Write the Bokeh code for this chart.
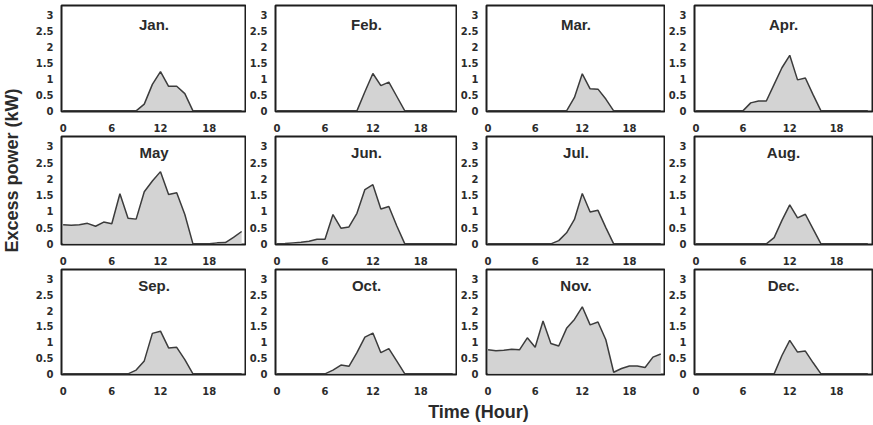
from math import pi

from bokeh.embed import file_html
from bokeh.layouts import column, row
from bokeh.models import FixedTicker, Label, NumeralTickFormatter, Range1d
from bokeh.plotting import figure
from bokeh.resources import INLINE

# Hour of day for each sample (hourly values)
hours = list(range(23))

month_names = ["Jan.", "Feb.", "Mar.", "Apr.", "May", "Jun.",
               "Jul.", "Aug.", "Sep.", "Oct.", "Nov.", "Dec."]

# Excess power (kW) per hour, one list per month
jan = [0, 0, 0, 0, 0, 0, 0, 0, 0, 0, 0.21, 0.83, 1.23, 0.77, 0.77, 0.54, 0, 0, 0, 0, 0, 0, 0]
feb = [0, 0, 0, 0, 0, 0, 0, 0, 0, 0, 0, 0.6, 1.17, 0.79, 0.9, 0.45, 0, 0, 0, 0, 0, 0, 0]
mar = [0, 0, 0, 0, 0, 0, 0, 0, 0, 0, 0, 0.42, 1.16, 0.69, 0.68, 0.37, 0, 0, 0, 0, 0, 0, 0]
apr = [0, 0, 0, 0, 0, 0, 0, 0.25, 0.31, 0.31, 0.83, 1.35, 1.74, 0.97, 1.03, 0.5, 0, 0, 0, 0, 0, 0, 0]
may = [0.59, 0.57, 0.59, 0.63, 0.54, 0.67, 0.62, 1.54, 0.79, 0.76, 1.6, 1.93, 2.22, 1.52, 1.57, 0.9,
       0, 0, 0, 0.03, 0.04, 0.2, 0.38]
jun = [0, 0.01, 0.03, 0.05, 0.08, 0.14, 0.14, 0.9, 0.48, 0.52, 0.94, 1.67, 1.82, 1.07, 1.15, 0.55,
       0, 0, 0, 0, 0, 0, 0]
jul = [0, 0, 0, 0, 0, 0, 0, 0, 0, 0.1, 0.34, 0.75, 1.55, 0.98, 1.03, 0.5, 0, 0, 0, 0, 0, 0, 0]
aug = [0, 0, 0, 0, 0, 0, 0, 0, 0, 0, 0.19, 0.72, 1.2, 0.8, 0.91, 0.45, 0, 0, 0, 0, 0, 0, 0]
sep = [0, 0, 0, 0, 0, 0, 0, 0, 0, 0.12, 0.41, 1.28, 1.35, 0.82, 0.84, 0.45, 0, 0, 0, 0, 0, 0, 0]
oct_ = [0, 0, 0, 0, 0, 0, 0, 0.12, 0.28, 0.24, 0.67, 1.16, 1.29, 0.67, 0.8, 0.4, 0, 0, 0, 0, 0, 0, 0]
nov = [0.76, 0.73, 0.75, 0.78, 0.76, 1.14, 0.84, 1.67, 0.96, 0.88, 1.44, 1.72, 2.12, 1.55, 1.64, 1.08,
       0.05, 0.17, 0.25, 0.25, 0.2, 0.53, 0.63]
dec = [0, 0, 0, 0, 0, 0, 0, 0, 0, 0, 0, 0.58, 1.06, 0.69, 0.72, 0.35, 0, 0, 0, 0, 0, 0, 0]

monthly = [jan, feb, mar, apr, may, jun, jul, aug, sep, oct_, nov, dec]

x_ticks = [0, 6, 12, 18]
y_ticks = [0, 0.5, 1, 1.5, 2, 2.5, 3]

FONT = "Liberation Sans"
TICK_FONT = "DejaVu Sans"
TEXT = "#2b2b2b"
LINE = "#3c3c3c"
FILL = "#d3d3d3"
FRAME = "#1e1e1e"

# panel geometry (pixels)
left_borders = [31, 26, 23, 23]
frame_widths = [185, 185, 185, 184]
right_borders = [0, 0, 0, 1]
row_specs = [(5, 110, 19), (2, 108, 23), (2, 108, 20)]  # top border, frame height, bottom border
title_y = [2.7, 2.8, 2.78]


def make_panel(name, values, col, r):
    top, fh, bottom = row_specs[r]
    p = figure(
        width=left_borders[col] + frame_widths[col] + right_borders[col],
        height=top + fh + bottom,
        x_range=Range1d(-0.2, 22.6),
        y_range=Range1d(-0.02, 3.3),
        output_backend="svg",
        toolbar_location=None,
        min_border_left=left_borders[col],
        min_border_right=right_borders[col],
        min_border_top=top,
        min_border_bottom=bottom,
    )
    p.grid.visible = False
    p.outline_line_color = FRAME
    p.outline_line_width = 2
    p.background_fill_color = "white"
    p.border_fill_color = "white"

    p.xaxis.ticker = FixedTicker(ticks=x_ticks)
    p.yaxis.ticker = FixedTicker(ticks=y_ticks)
    p.yaxis.formatter = NumeralTickFormatter(format="0.[0]")
    for ax in (p.xaxis, p.yaxis):
        ax.axis_line_color = None
        ax.major_tick_line_color = None
        ax.minor_tick_line_color = None
        ax.major_label_text_font = TICK_FONT
        ax.major_label_text_font_style = "bold"
        ax.major_label_text_font_size = "10px"
        ax.major_label_text_color = TEXT
    p.xaxis.major_label_standoff = 6
    p.xaxis.major_label_text_align = "left"
    p.yaxis.major_label_standoff = 2

    p.varea(x=hours, y1=0, y2=values, fill_color=FILL)
    p.line(hours, values, line_color=LINE, line_width=1.5)

    p.add_layout(Label(x=11.2, y=title_y[r], text=name, text_align="center",
                       text_baseline="middle", text_font=FONT,
                       text_font_style="bold", text_font_size="15px",
                       text_color=TEXT))
    return p


rows = []
for r in range(3):
    panels = [make_panel(month_names[r * 4 + c], monthly[r * 4 + c], c, r)
              for c in range(4)]
    rows.append(row(*panels))
grid = column(*rows)

grid_height = sum(t + f + b for t, f, b in row_specs)

# shared y-axis title
ylab = figure(width=30, height=grid_height, x_range=Range1d(0, 30),
              y_range=Range1d(0, grid_height), output_backend="svg",
              toolbar_location=None, min_border=0)
ylab.axis.visible = False
ylab.grid.visible = False
ylab.outline_line_color = None
ylab.add_layout(Label(x=11, y=grid_height - 170, text="Excess power (kW)", angle=pi / 2,
                      text_align="center", text_baseline="middle", text_font=FONT,
                      text_font_style="bold", text_font_size="18px", text_color=TEXT))

# shared x-axis title
xlab = figure(width=873, height=28, x_range=Range1d(0, 873), y_range=Range1d(0, 28),
              output_backend="svg", toolbar_location=None, min_border=0)
xlab.axis.visible = False
xlab.grid.visible = False
xlab.outline_line_color = None
xlab.add_layout(Label(x=478, y=14, text="Time (Hour)", text_align="center",
                      text_baseline="middle", text_font=FONT, text_font_style="bold",
                      text_font_size="18px", text_color=TEXT))

layout = column(row(ylab, grid), xlab)

open("out.html", "w").write(file_html(layout, INLINE))
